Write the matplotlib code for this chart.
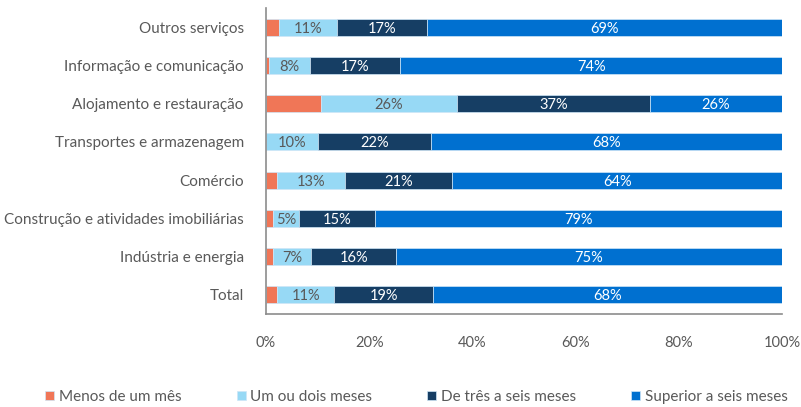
import matplotlib
matplotlib.use("Agg")
import matplotlib.pyplot as plt
import numpy as np

plt.rcParams['font.family'] = ['Lato', 'DejaVu Sans']

categories = ["Outros serviços", "Informação e comunicação", "Alojamento e restauração",
              "Transportes e armazenagem", "Comércio", "Construção e atividades imobiliárias",
              "Indústria e energia", "Total"]
series_names = ["Menos de um mês", "Um ou dois meses", "De três a seis meses", "Superior a seis meses"]
menos_um_mes = [2.6, 0.6, 10.6, 0.0, 2.1, 1.4, 1.4, 2.2]
um_dois_meses = [11.2, 8.0, 26.4, 10.0, 13.2, 5.0, 7.4, 11.0]
tres_seis_meses = [17.4, 17.4, 37.4, 22.0, 20.8, 14.8, 16.4, 19.2]
superior_seis = [68.8, 74.0, 25.6, 68.0, 63.9, 78.8, 74.8, 67.6]
xticks = [0, 20, 40, 60, 80, 100]

colors = ["#F07657", "#97D9F5", "#163E64", "#0070D0"]
label_colors = [None, "#595959", "white", "white"]
grey = "#595959"

fig = plt.figure(figsize=(8.01, 4.07), dpi=100)
ax = fig.add_axes([266/801, 1-314/407, (782-266)/801, (314-8)/407])

data = [menos_um_mes, um_dois_meses, tres_seis_meses, superior_seis]
y = np.arange(len(categories))[::-1]
left = np.zeros(len(categories))
for vals, col, lc, name in zip(data, colors, label_colors, series_names):
    vals = np.array(vals)
    ax.barh(y, vals, left=left, height=0.44, color=col, label=name,
            edgecolor="#cfe6f7", linewidth=0.5)
    if lc is not None:
        for yi, l, v in zip(y, left, vals):
            if v > 0:
                ax.text(l + v/2, yi - 0.04, f"{v:.0f}%", ha="center", va="center",
                        color=lc, fontsize=10.5)
    left += vals

ax.set_xlim(0, 100)
ax.set_ylim(-0.5, len(categories) - 0.5)
ax.set_yticks(y)
ax.set_yticklabels(categories, fontsize=11, color=grey)
ax.set_xticks(xticks)
ax.set_xticklabels([f"{t}%" for t in xticks], fontsize=10.5, color=grey)
ax.tick_params(axis="y", length=0, pad=16)
ax.tick_params(axis="x", length=0, pad=16)
for s in ["top", "right"]:
    ax.spines[s].set_visible(False)
for s in ["left", "bottom"]:
    ax.spines[s].set_color("#8c8c8c")
    ax.spines[s].set_linewidth(1.2)

leg = fig.legend(loc="center", bbox_to_anchor=(0.52, 1-397/407), ncol=4, frameon=False,
                 fontsize=11, handlelength=0.6, handleheight=0.6, handletextpad=0.3,
                 columnspacing=3.6)
for t in leg.get_texts():
    t.set_color(grey)

fig.savefig("out.png", dpi=100)
